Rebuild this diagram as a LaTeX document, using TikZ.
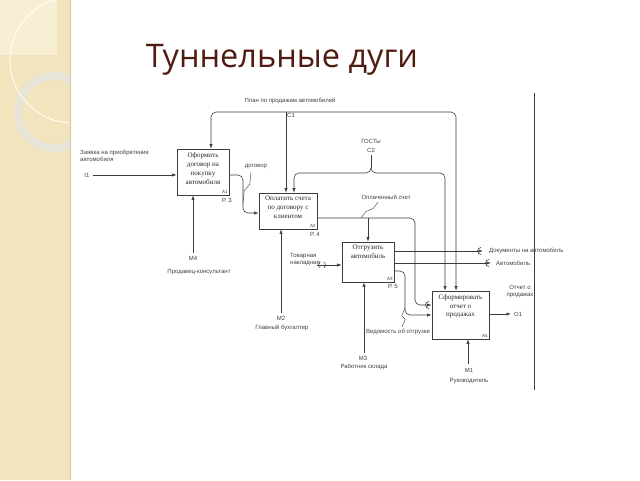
\documentclass[tikz,border=0pt]{standalone}
\usepackage{fontspec}
\setmainfont{Liberation Sans}
\newfontfamily\titlefont{Open Sans}
\newfontfamily\boxfont{Liberation Serif}
\usetikzlibrary{arrows.meta, positioning, calc}

\definecolor{panelbeige}{RGB}{242,228,188}
\definecolor{panellight}{RGB}{247,238,212}
\definecolor{paneledge}{RGB}{215,198,152}
\definecolor{ringgray}{RGB}{232,228,216}
\definecolor{titlebrown}{RGB}{80,28,18}
\definecolor{linegray}{RGB}{60,60,60}

\tikzset{
    wire/.style={draw=linegray, line width=0.6pt},
    arr/.style={wire, -{Latex[length=4.5pt,width=3.2pt]}},
    procbox/.style={draw=linegray, line width=0.7pt, fill=white, inner sep=0pt},
    boxtext/.style={font=\boxfont\fontsize{7}{8.8}\selectfont, align=center, text=black!85, inner sep=0pt},
    lbl/.style={font=\fontsize{6}{7}\selectfont, text=black!75, inner sep=0pt, align=left},
    num/.style={font=\fontsize{4.5}{5}\selectfont, text=black!75, inner sep=1.5pt},
    titletext/.style={font=\titlefont\fontsize{32.5}{38}\selectfont, text=titlebrown}
}

\begin{document}
\begin{tikzpicture}[x=1pt, y=-1pt]
    \useasboundingbox (0,0) rectangle (640,480);

    % Side panel
    \fill[panelbeige] (0,0) rectangle (70,480);
    \begin{scope}
        \clip (0,0) rectangle (70,480);
        \fill[panellight] (0,0) rectangle (57,55);
        \draw[ringgray, line width=8pt] (54,112) circle (36pt);
        \draw[white, line width=0.8pt] (73,60) circle (63pt);
    \end{scope}
    \draw[paneledge, line width=1pt] (70,0) -- (70,480);

    % Title
    \node[titletext] (title) at (282,60) {Туннельные дуги};

    % Frame line on the right
    \draw[linegray, line width=0.5pt] (534,93) -- (534,390);

    % Boxes
    \node[procbox, minimum width=52pt, minimum height=46pt] (a1) at (203,172) {};
    \node[boxtext, below=4pt of a1.north] (a1t) {Оформить\\договор на\\покупку\\автомобиля};
    \node[num, anchor=south east] (a1n) at (a1.south east) {A1};

    \node[procbox, minimum width=58pt, minimum height=36pt] (a2) at (288,211) {};
    \node[boxtext, below=3.5pt of a2.north] (a2t) {Оплатить счета\\по договору с\\клиентом};
    \node[num, anchor=south east] (a2n) at (a2.south east) {A2};

    \node[procbox, minimum width=52pt, minimum height=40pt] (a3) at (368,262) {};
    \node[boxtext, below=3.5pt of a3.north] (a3t) {Отгрузить\\автомобиль};
    \node[num, anchor=south east] (a3n) at (a3.south east) {A3};

    \node[procbox, minimum width=57pt, minimum height=48pt] (a4) at (460.5,315) {};
    \node[boxtext, below=3.5pt of a4.north] (a4t) {Сформировать\\отчет о\\продажах};
    \node[num, anchor=south east] (a4n) at (a4.south east) {A4};

    % Page references
    \node[lbl] (p3) at (227,200) {Р. 3};
    \node[lbl] (p4) at (315,234) {Р. 4};
    \node[lbl] (p5) at (393,286) {Р. 5};

    % Input I1
    \coordinate (i1) at (93,175);
    \node[lbl, anchor=north west] (i1l) at (80,150) {Заявка на приобретение\\автомобиля};
    \node[lbl] (i1c) at (87,175) {I1};
    \draw[arr] (i1) -- (a1.west |- i1);

    % Control C1 (plan)
    \coordinate (c1) at (286,112);
    \node[lbl] (c1l) at (290,101) {План по продажам автомобилей};
    \node[lbl] (c1c) at (291,115) {С1};
    \draw[arr, rounded corners=5pt] (c1) -| ($(a1.north)+(8,0)$);
    \draw[arr, rounded corners=5pt] (c1) -| ($(a4.north)+(-4.5,0)$);
    \draw[arr] (c1) -- ($(a2.north)+(-2,0)$);

    % Control C2 (standards)
    \node[lbl] (c2l) at (371,141) {ГОСТы};
    \node[lbl] (c2c) at (371,150) {С2};
    \coordinate (c2) at (371,155);
    \coordinate (c2b) at (371,168);
    \draw[wire] (c2) -- (c2b);
    \draw[arr, rounded corners=5pt] (c2b) -- (371,173) -- (294,173) -- ($(a2.north)+(6,0)$);
    \draw[arr, rounded corners=5pt] (c2b) -- (371,173) -- (445,173) -- ($(a4.north)+(-15.5,0)$);

    % A1 -> A2 (contract)
    \draw[arr, rounded corners=5pt] ($(a1.east)+(0,3)$) -- (243,175) -- (243,213) -- ($(a2.west)+(0,2)$);
    \node[lbl] (dog) at (256,167) {договор};
    \coordinate (dogp) at (243,203);
    \draw[wire, line width=0.4pt] (251,172) -- ($(251,172)!0.4!(dogp)+(2,0)$) -- ($(251,172)!0.6!(dogp)+(-2,0)$) -- (dogp);

    % A2 -> A3, A4 (paid invoice)
    \coordinate (paid) at (368,218);
    \draw[arr, rounded corners=5pt] ($(a2.east)+(0,7)$) -- (415,218) -- (415,305) -- ($(a4.west)+(0,-10)$);
    \draw[arr] (paid) -- (a3.north);
    \draw[wire] (429,305) ++(90:3.5pt) arc (90:270:3.5pt);
    \node[lbl] (paidl) at (386,197) {Оплаченный счет};
    \coordinate (paidp) at (361,218);
    \draw[wire, line width=0.4pt] (378,202) -- ($(378,202)!0.4!(paidp)+(2,0)$) -- ($(378,202)!0.6!(paidp)+(-2,0)$) -- (paidp);

    % Input to A3 (tunnelled)
    \coordinate (tn) at (317,265);
    \node[lbl, anchor=west] (tnl) at (290,260) {Товарная\\накладная};
    \draw[arr] (tn) -- ($(a3.west)+(0,3)$);
    \draw[wire] (322,265) ++(120:3.5pt) arc (120:240:3.5pt);
    \draw[wire] (322,265) ++(-60:3.5pt) arc (-60:60:3.5pt);

    % Outputs of A3
    \coordinate (docs) at (483,251);
    \coordinate (car) at (491,263);
    \draw[arr] ($(a3.east)+(0,-11)$) -- (docs);
    \draw[arr] ($(a3.east)+(0,1)$) -- (car);
    \draw[wire] (481,251) ++(90:3.5pt) arc (90:270:3.5pt);
    \draw[wire] (489,263) ++(90:3.5pt) arc (90:270:3.5pt);
    \node[lbl, anchor=west] (docsl) at (489,251) {Документы на автомобиль};
    \node[lbl, anchor=west] (carl) at (496,263) {Автомобиль};

    % A3 -> A4 (shipping record)
    \draw[arr, rounded corners=5pt] ($(a3.east)+(0,9)$) -- (405,271) -- (405,315) -- (a4.west);
    \node[lbl] (shipl) at (398,332) {Ведомость об отгрузке};
    \coordinate (shipp) at (405,308);
    \draw[wire, line width=0.4pt] (402,327) -- ($(402,327)!0.4!(shipp)+(2,0)$) -- ($(402,327)!0.6!(shipp)+(-2,0)$) -- (shipp);

    % Output O1
    \coordinate (o1) at (511,314);
    \draw[arr] ($(a4.east)+(0,-1)$) -- (o1);
    \node[lbl, anchor=west] (o1c) at (514,314) {O1};
    \node[lbl, align=center] (o1l) at (520,292) {Отчет о\\продажах};

    % Mechanisms
    \coordinate (m4) at (193,253);
    \draw[arr] (m4) -- (m4 |- a1.south);
    \node[lbl] (m4c) at (193,258) {M4};
    \node[lbl] (m4l) at (199,272) {Продавец-консультант};

    \coordinate (m2) at (281,313);
    \draw[arr] (m2) -- (m2 |- a2.south);
    \node[lbl] (m2c) at (281,318) {M2};
    \node[lbl] (m2l) at (282,328) {Главный бухгалтер};

    \coordinate (m3) at (364,353);
    \draw[arr] (m3) -- (m3 |- a3.south);
    \node[lbl] (m3c) at (363,358) {M3};
    \node[lbl] (m3l) at (364,367) {Работник склада};

    \coordinate (m1) at (468,364);
    \draw[arr] (m1) -- (m1 |- a4.south);
    \node[lbl] (m1c) at (469,370) {M1};
    \node[lbl] (m1l) at (469,381) {Руководитель};
\end{tikzpicture}
\end{document}
